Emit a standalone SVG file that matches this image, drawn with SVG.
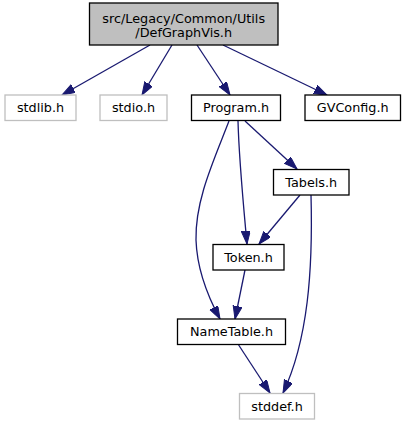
<svg xmlns="http://www.w3.org/2000/svg" width="405" height="425" viewBox="0 0 405 425">
<style>
text{font-family:"DejaVu Sans",sans-serif;font-size:12.8px;fill:#000;text-anchor:middle}
.int{fill:#fff;stroke:#000;stroke-width:1.3}
.ext{fill:#fff;stroke:#bfbfbf;stroke-width:1.3}
.root{fill:#bfbfbf;stroke:#000;stroke-width:1.3}
.e{fill:none;stroke:#191970;stroke-width:1.3}
</style>
<defs>
<marker id="ah" markerUnits="userSpaceOnUse" markerWidth="14" markerHeight="10" refX="13" refY="4.5" orient="auto">
<path d="M0,0 L13,4.5 L0,9 z" fill="#191970" stroke="#191970" stroke-width="1"/>
</marker>
</defs>
<g id="edges">
<path class="e" marker-end="url(#ah)" d="M150,45 L62,95"/>
<path class="e" marker-end="url(#ah)" d="M172,45 L142,95"/>
<path class="e" marker-end="url(#ah)" d="M197,45 L230,95"/>
<path class="e" marker-end="url(#ah)" d="M223,45 L327,95"/>
<path class="e" marker-end="url(#ah)" d="M245,121 L297,169"/>
<path class="e" marker-end="url(#ah)" d="M238,121 C239,160 243,200 247,244"/>
<path class="e" marker-end="url(#ah)" d="M229,121 C214,160 195,200 196,240 C197,270 207,295 220,319"/>
<path class="e" marker-end="url(#ah)" d="M300,195 L259,244"/>
<path class="e" marker-end="url(#ah)" d="M311,195 C313,270 308,340 283,393"/>
<path class="e" marker-end="url(#ah)" d="M245,270 L235,319"/>
<path class="e" marker-end="url(#ah)" d="M238,344 L270,393"/>
</g>
<g id="node-root">
<rect class="root" x="89.5" y="3" width="188.5" height="42"/>
<text x="183.7" y="22.5">src/Legacy/Common/Utils</text>
<text x="183.7" y="37">/DefGraphVis.h</text>
</g>
<g id="node-stdlib">
<rect class="ext" x="5" y="95" width="71" height="25.5"/>
<text x="40.5" y="112">stdlib.h</text>
</g>
<g id="node-stdio">
<rect class="ext" x="100" y="95" width="67" height="25.5"/>
<text x="133.5" y="112">stdio.h</text>
</g>
<g id="node-program">
<rect class="int" x="191.5" y="95" width="89" height="25.5"/>
<text x="236" y="112">Program.h</text>
</g>
<g id="node-gvconfig">
<rect class="int" x="305" y="95" width="95.5" height="25.5"/>
<text x="352.7" y="112">GVConfig.h</text>
</g>
<g id="node-tabels">
<rect class="int" x="273.5" y="169.5" width="75.5" height="25.5"/>
<text x="311.2" y="186.5">Tabels.h</text>
</g>
<g id="node-token">
<rect class="int" x="213" y="244.5" width="71" height="25.5"/>
<text x="248.5" y="261.5">Token.h</text>
</g>
<g id="node-nametable">
<rect class="int" x="177.5" y="319" width="108" height="25.5"/>
<text x="231.5" y="336">NameTable.h</text>
</g>
<g id="node-stddef">
<rect class="ext" x="239.5" y="393.5" width="75" height="25.5"/>
<text x="277" y="410.5">stddef.h</text>
</g>
</svg>
